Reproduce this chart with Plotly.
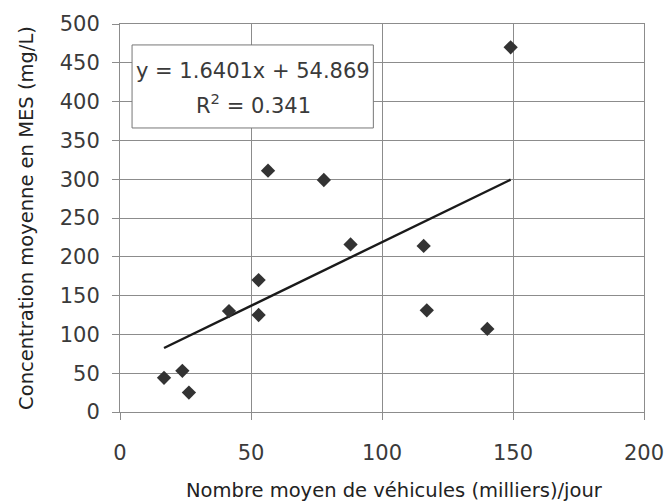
import plotly.graph_objects as go

vehicules = [16.8, 23.8, 26.3, 41.6, 52.9, 52.9, 56.5, 77.8, 88.0, 115.9, 117.1, 140.2, 149.1]
mes = [44, 53, 25, 130, 170, 125, 311, 299, 216, 214, 131, 107, 470]

slope = 1.6401
intercept = 54.869
r2 = 0.341
x_ticks = [0, 50, 100, 150, 200]
y_ticks = [0, 50, 100, 150, 200, 250, 300, 350, 400, 450, 500]
x_title = "Nombre moyen de véhicules (milliers)/jour"
y_title = "Concentration moyenne en MES (mg/L)"

x_fit = [min(vehicules), max(vehicules)]
y_fit = [slope * v + intercept for v in x_fit]

FONT = "DejaVu Sans, Verdana, sans-serif"
TXT = "#3a3a3a"
GRID = "#8c8c8c"
fig = go.Figure()
fig.add_trace(go.Scatter(x=x_fit, y=y_fit, mode="lines",
                         line=dict(color="#1a1a1a", width=2.4), showlegend=False))
fig.add_trace(go.Scatter(x=vehicules, y=mes, mode="markers",
                         marker=dict(symbol="diamond", size=11, color="#333333"),
                         showlegend=False))

fig.add_shape(type="rect", xref="x", yref="y", x0=4.6, x1=96.7, y0=366, y1=473,
              line=dict(color="#777777", width=1), fillcolor="white", layer="above")
fig.add_annotation(x=50.8, y=440, xref="x", yref="y", showarrow=False,
                   text=f"y = {slope}x + {intercept}", font=dict(size=21, color=TXT, family=FONT))
fig.add_annotation(x=50.8, y=397, xref="x", yref="y", showarrow=False,
                   text=f"R<sup>2</sup> = {r2}", font=dict(size=21, color=TXT, family=FONT))
fig.add_annotation(x=0.523, y=-0.203, xref="paper", yref="paper", showarrow=False,
                   xanchor="center", yanchor="middle",
                   text=x_title, font=dict(size=19.5, color="#222222", family=FONT))

fig.update_layout(
    width=667, height=502,
    margin=dict(l=120, r=23, t=24, b=90),
    paper_bgcolor="white", plot_bgcolor="white",
    font=dict(family=FONT, color=TXT),
)
fig.update_xaxes(range=[0, 200], tickvals=x_ticks, showgrid=True, gridcolor=GRID, gridwidth=1,
                 zeroline=False, showline=True, linecolor=GRID, mirror=True, automargin=False,
                 ticks="outside", ticklen=7, tickcolor=GRID, ticklabelstandoff=15,
                 tickfont=dict(size=21, color=TXT))
fig.update_yaxes(range=[0, 500], tickvals=y_ticks, showgrid=True, gridcolor=GRID, gridwidth=1,
                 zeroline=False, showline=True, linecolor=GRID, mirror=True, automargin=False,
                 ticks="outside", ticklen=7, tickcolor=GRID, ticklabelstandoff=8,
                 tickfont=dict(size=21, color=TXT),
                 title=dict(text=y_title,
                            font=dict(size=19.5, color="#222222"), standoff=20))

fig.write_html("out.html", config={"displayModeBar": False},
               post_script="document.body.style.margin='0px';")
